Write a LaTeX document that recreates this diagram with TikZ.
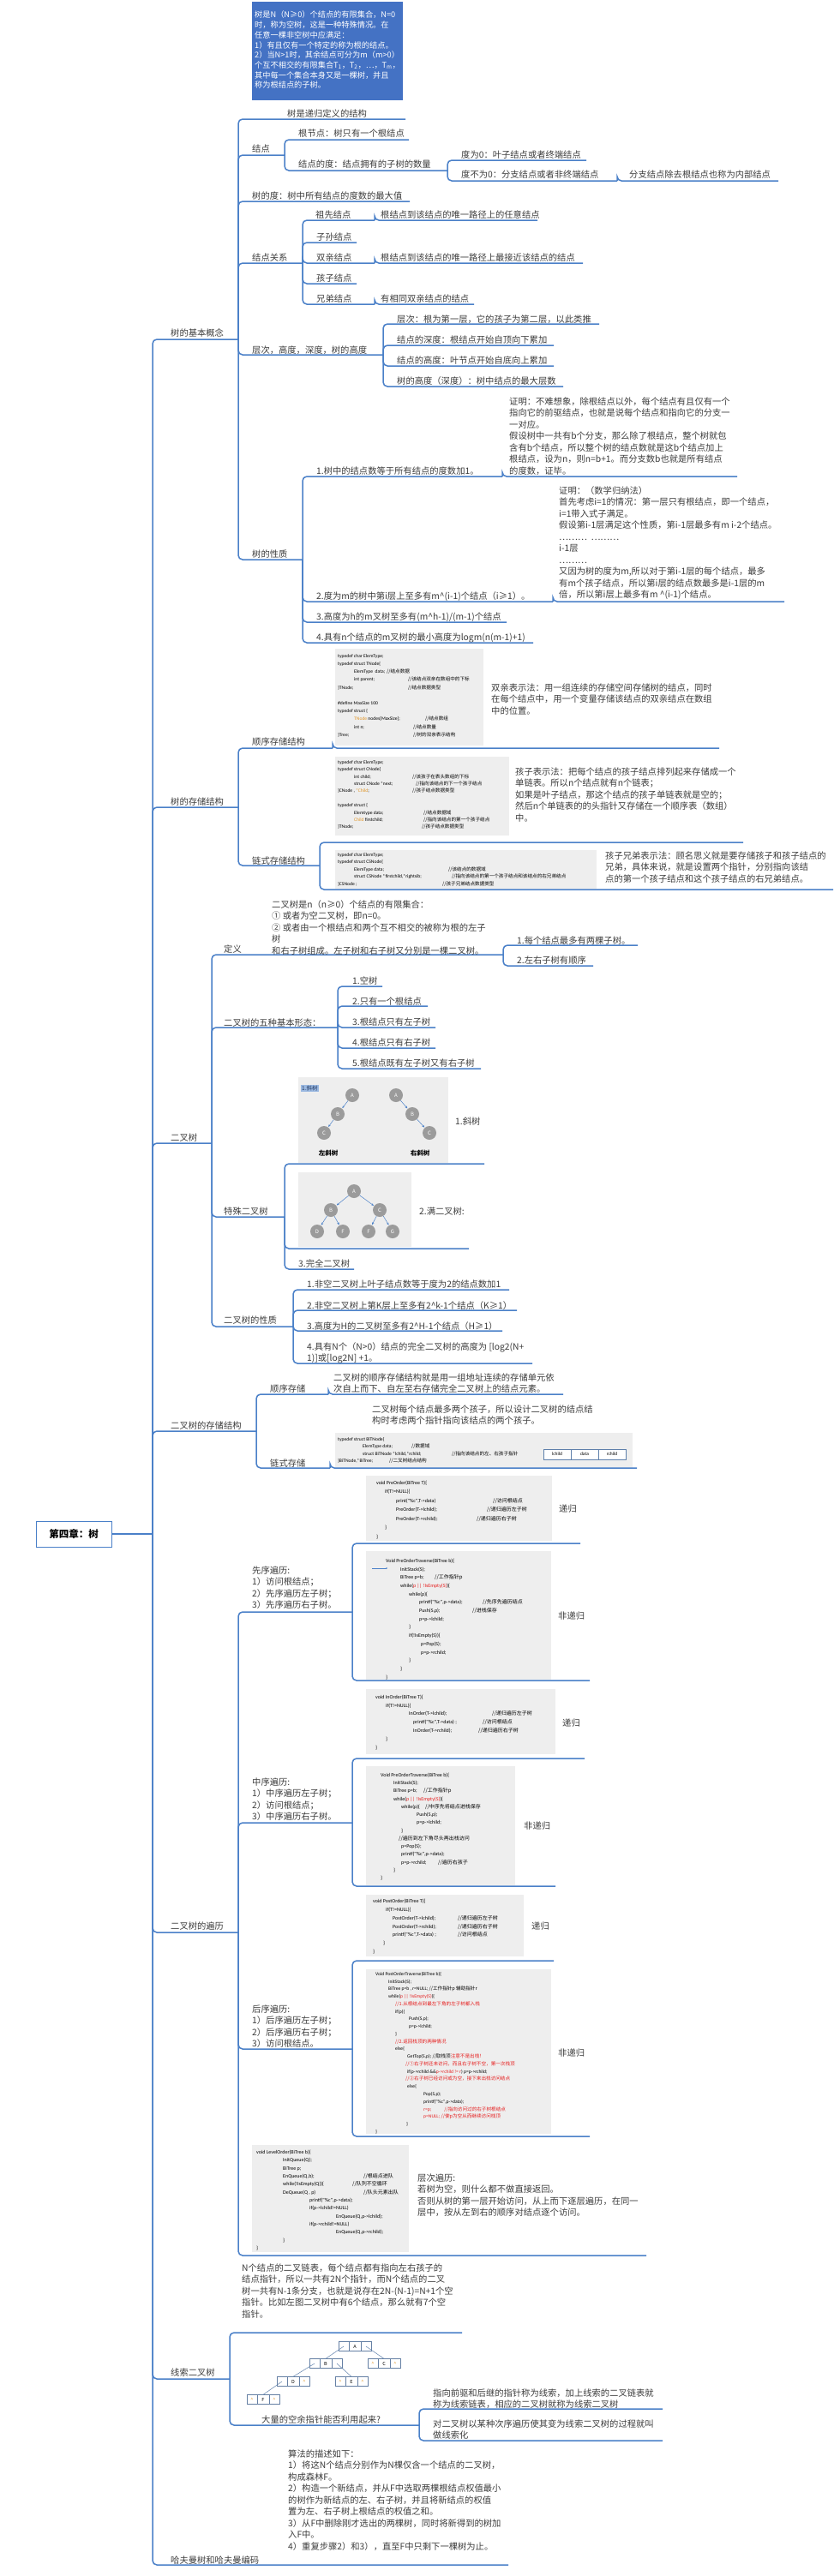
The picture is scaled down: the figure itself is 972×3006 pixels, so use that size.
\documentclass[tikz,border=0pt]{standalone}
\usepackage{fontspec}
\setmainfont{Noto Sans CJK SC}
\newfontfamily\cjk{Noto Sans CJK SC}
\newfontfamily\codef{Carlito}
\usetikzlibrary{fit,arrows.meta}
\definecolor{lc}{RGB}{74,128,200}
\definecolor{tc}{RGB}{60,60,60}
\definecolor{boxb}{RGB}{68,114,196}
\definecolor{cbg}{RGB}{238,238,238}
\definecolor{ng}{RGB}{155,155,155}
\definecolor{cred}{RGB}{230,30,30}
\definecolor{corg}{RGB}{225,150,40}
\newcommand\mmstrut{\rule{0pt}{9.3pt}}
\newcommand\mmln[4]{\hspace*{#1pt}\rlap{#2}\hspace*{\dimexpr#3pt-#1pt\relax}{\cjk #4}}
\newcommand\mmli[2]{\hspace*{#1pt}#2}
\newcommand\mmtopic[7]{%
  \node[tx] (#1) at (#3,#4-5.4) {\mmstrut#7};
  \coordinate (#1-e) at (#6,#5);
  \draw[conn] (#2) |- (#1-e);}
\newcommand\mmcode[9]{%
  \node[codebg, fit={(#2,#3) (#4,#5)}] (#1) {};
  \node[code, font=\codef\fontsize#8\selectfont] (#1t) at (#6,#7-3.9) {\rule{0pt}{6pt}#9};}
\newcommand\mmtb[6]{%
  \node[tcell, minimum width=12pt] (#1l) at (#2-13,#3) {#4};
  \node[tcell, minimum width=14pt] (#1m) at (#2,#3) {#5};
  \node[tcell, minimum width=12pt] (#1r) at (#2+13,#3) {#6};}
\newcommand\nil{\textcolor{corg}{\textasciicircum}}
\tikzset{
 conn/.style={draw=lc, line width=1.5pt, rounded corners=5pt},
 tx/.style={font=\fontsize{10.3}{13.5}\selectfont, text=tc, inner sep=0pt, anchor=north west, align=left},
 codebg/.style={fill=cbg, draw=none, inner sep=0pt},
 code/.style={text=black, inner sep=0pt, anchor=north west, align=left},
 tn/.style={circle, fill=ng, minimum size=16pt, inner sep=0pt, text=white, font=\fontsize{6}{6}\selectfont},
 tarr/.style={-{Stealth[length=3pt,width=2.5pt]}, draw=lc, line width=0.5pt, shorten >=0.5pt},
 tcell/.style={draw=lc!50!gray, fill=white, minimum height=11pt, inner sep=0pt, font=\fontsize{5.5}{5.5}\selectfont, line width=0.4pt},
 tline/.style={draw=lc!60!gray, line width=0.5pt},
 cell2/.style={draw=lc!60!gray, fill=white, minimum width=32pt, minimum height=12pt, inner sep=0pt, font=\codef\fontsize{5.5}{5.5}\selectfont, line width=0.4pt},
}
\begin{document}
\begin{tikzpicture}[x=1pt,y=-1pt]
\useasboundingbox (0,0) rectangle (972,3006);
\fill[white] (0,0) rectangle (972,3006);

% ---------- note box ----------
\node[fill=boxb, fit={(294,2) (470,117)}, inner sep=0pt] (note) {};
\node[tx, text=white, font=\fontsize{9.2}{11.7}\selectfont] (notet) at (297,17-4.6) {\rule{0pt}{8.3pt}树是N（N≥0）个结点的有限集合，N=0\\时，称为空树，这是一种特殊情况。在\\任意一棵非空树中应满足：\\1）有且仅有一个特定的称为根的结点。\\2）当N>1时，其余结点可分为m（m>0）\\个互不相交的有限集合T\textsubscript{1}，T\textsubscript{2}，…，T\textsubscript{m}，\\其中每一个集合本身又是一棵树，并且\\称为根结点的子树。};

% ---------- root ----------
\node[draw=lc, line width=1pt, fill=white, minimum width=88pt, minimum height=30pt, inner sep=0pt, font=\fontsize{11.5}{12}\selectfont\bfseries, text=black] (root) at (86,1790) {第四章：树};
\coordinate (root-e) at (178,1790);
\draw[conn] (root.east) -- (root-e);

% ---------- level 1 ----------
\mmtopic{gn}{root-e}{199}{388}{396}{278}{树的基本概念}
\mmtopic{cc}{root-e}{199}{935}{942}{278}{树的存储结构}
\mmtopic{bt}{root-e}{199}{1327}{1334}{247}{二叉树}
\mmtopic{bs}{root-e}{199}{1663}{1670}{299}{二叉树的存储结构}
\mmtopic{tr}{root-e}{199}{2247}{2255}{278}{二叉树的遍历}
\mmtopic{xs}{root-e}{199}{2768}{2776}{268}{线索二叉树}
\mmtopic{hf}{root-e}{199}{2987}{2993}{593}{哈夫曼树和哈夫曼编码}
\node[tx] (hft) at (336,2863-5.4) {\mmstrut 算法的描述如下：\\1）将这N个结点分别作为N棵仅含一个结点的二叉树，\\构成森林F。\\2）构造一个新结点，并从F中选取两棵根结点权值最小\\的树作为新结点的左、右子树，并且将新结点的权值\\置为左、右子树上根结点的权值之和。\\3）从F中删除刚才选出的两棵树，同时将新得到的树加\\入F中。\\4）重复步骤2）和3），直至F中只剩下一棵树为止。};

% ---------- 树的基本概念 ----------
\mmtopic{g1}{gn-e}{335}{132}{139}{473}{树是递归定义的结构}
\mmtopic{g2}{gn-e}{294}{173}{181}{332}{结点}
\mmtopic{g21}{g2-e}{348}{155}{163}{477}{根节点：树只有一个根结点}
\mmtopic{g22}{g2-e}{348}{191}{199}{522}{结点的度：结点拥有的子树的数量}
\mmtopic{g221}{g22-e}{538}{180}{187}{684}{度为0：叶子结点或者终端结点}
\mmtopic{g222}{g22-e}{538}{203}{211}{720}{度不为0：分支结点或者非终端结点}
\mmtopic{g2221}{g222-e}{734}{203}{211}{908}{分支结点除去根结点也称为内部结点}
\mmtopic{g3}{gn-e}{294}{228}{235}{478}{树的度：树中所有结点的度数的最大值}
\mmtopic{g4}{gn-e}{294}{300}{307}{353}{结点关系}
\mmtopic{g41}{g4-e}{368}{250}{257}{437}{祖先结点}
\mmtopic{g411}{g41-e}{444}{250}{257}{627}{根结点到该结点的唯一路径上的任意结点}
\mmtopic{g42}{g4-e}{369}{276}{283}{416}{子孙结点}
\mmtopic{g43}{g4-e}{369}{300}{307}{437}{双亲结点}
\mmtopic{g431}{g43-e}{444}{300}{307}{680}{根结点到该结点的唯一路径上最接近该结点的结点}
\mmtopic{g44}{g4-e}{369}{324}{331}{416}{孩子结点}
\mmtopic{g45}{g4-e}{369}{348}{355}{437}{兄弟结点}
\mmtopic{g451}{g45-e}{444}{348}{355}{553}{有相同双亲结点的结点}
\mmtopic{g5}{gn-e}{294}{408}{414}{447}{层次，高度，深度，树的高度}
\mmtopic{g51}{g5-e}{463}{372}{378}{699}{层次：根为第一层，它的孩子为第二层，以此类推}
\mmtopic{g52}{g5-e}{463}{396}{403}{646}{结点的深度：根结点开始自顶向下累加}
\mmtopic{g53}{g5-e}{463}{420}{427}{646}{结点的高度：叶节点开始自底向上累加}
\mmtopic{g54}{g5-e}{463}{444}{451}{657}{树的高度（深度）：树中结点的最大层数}
\mmtopic{g6}{gn-e}{294}{646}{653}{353}{树的性质}
\mmtopic{g61}{g6-e}{369}{549}{556}{586}{1.树中的结点数等于所有结点的度数加1。}
\mmtopic{g61p}{g61-e}{594}{468}{556}{860}{证明：不难想象，除根结点以外，每个结点有且仅有一个\\指向它的前驱结点，也就是说每个结点和指向它的分支一\\一对应。\\假设树中一共有b个分支，那么除了根结点，整个树就包\\含有b个结点，所以整个树的结点数就是这b个结点加上\\根结点，设为n，则n=b+1。而分支数b也就是所有结点\\的度数，证毕。}
\mmtopic{g62}{g6-e}{369}{695}{702}{645}{2.度为m的树中第i层上至多有m\textasciicircum(i-1)个结点（i≥1）。}
\mmtopic{g62p}{g62-e}{652}{572}{702}{915}{证明：（数学归纳法）\\首先考虑i=1的情况：第一层只有根结点，即一个结点，\\i=1带入式子满足。\\假设第i-1层满足这个性质，第i-1层最多有m i-2个结点。\\………\ \ ………\\i-1层\\………\\又因为树的度为m,所以对于第i-1层的每个结点，最多\\有m个孩子结点，所以第i层的结点数最多是i-1层的m\\倍，所以第i层上最多有m \textasciicircum(i-1)个结点。}
\mmtopic{g63}{g6-e}{369}{719}{726}{591}{3.高度为h的m叉树至多有(m\textasciicircum h-1)/(m-1)个结点}
\mmtopic{g64}{g6-e}{369}{743}{750}{622}{4.具有n个结点的m叉树的最小高度为logm(n(m-1)+1)}

% ---------- 树的存储结构 ----------
\mmtopic{c1}{cc-e}{294}{865}{873}{388}{顺序存储结构}
\mmcode{c11code}{391}{757}{564}{870}{394}{765}{{5.6}{9.2}}{%
typedef char ElemType;\\
typedef struct TNode\{\\
\mmln{19}{ElemType\ \ data;}{57}{//结点数据}\\
\mmln{19}{int parent;}{82}{//该结点双亲在数组中的下标}\\
\mmln{0}{\}TNode;}{82}{//结点数据类型}\\
\mbox{}\\
\#define MaxSize 100\\
typedef struct \{\\
\mmln{19}{\textcolor{corg}{TNode} nodes[MaxSize];}{102}{//结点数组}\\
\mmln{19}{int n;}{88}{//结点数量}\\
\mmln{0}{\}Tree;}{88}{//树的双亲表示结构}}
\mmtopic{c11}{c1-e}{573}{802}{873}{839}{双亲表示法：用一组连续的存储空间存储树的结点，同时\\在每个结点中，用一个变量存储该结点的双亲结点在数组\\中的位置。}
\mmtopic{c2}{cc-e}{294}{1004}{1010}{373}{链式存储结构}
\mmcode{c21code}{391}{883}{594}{975}{394}{889}{{5.6}{8.4}}{%
typedef char ElemType;\\
typedef struct CNode\{\\
\mmln{19}{int child;}{87}{//该孩子在表头数组的下标}\\
\mmln{19}{struct CNode *next;}{91}{//指向该结点的下一个孩子结点}\\
\mmln{0}{\}CNode , \textcolor{corg}{*Child};}{87}{//孩子结点数据类型}\\
\mbox{}\\
typedef struct \{\\
\mmln{19}{Elemtype data;}{100}{//结点数据域}\\
\mmln{19}{\textcolor{corg}{Child} firstchild;}{100}{//指向该结点的第一个孩子结点}\\
\mmln{0}{\}TNode;}{98}{//孩子结点数据类型}}
\mmtopic{c21}{c2-e}{601}{900}{983}{867}{孩子表示法：把每个结点的孩子结点排列起来存储成一个\\单链表。所以n个结点就有n个链表；\\如果是叶子结点，那这个结点的孩子单链表就是空的；\\然后n个单链表的的头指针又存储在一个顺序表（数组）\\中。}
\mmcode{c22code}{391}{992}{696}{1037}{394}{997}{{5.6}{8.5}}{%
typedef char ElemType;\\
typedef struct CSNode\{\\
\mmln{19}{ElemType data;}{129}{//该结点的数据域}\\
\mmln{19}{struct CSNode *firstchild,*rightsib;}{133}{//指向该结点的第一个孩子结点和该结点的右兄弟结点}\\
\mmln{0}{\}CSNode ;}{122}{//孩子兄弟结点数据类型}}
\mmtopic{c22}{c2-e}{706}{998}{1038}{972}{孩子兄弟表示法：顾名思义就是要存储孩子和孩子结点的\\兄弟，具体来说，就是设置两个指针，分别指向该结\\点的第一个孩子结点和这个孩子结点的右兄弟结点。}

% ---------- 二叉树 ----------
\mmtopic{b1}{bt-e}{261}{1107}{1114}{587}{定义}
\node[tx] (b1d) at (317,1055-5.4) {\mmstrut 二叉树是n（n≥0）个结点的有限集合：\\① 或者为空二叉树，即n=0。\\② 或者由一个根结点和两个互不相交的被称为根的左子\\树\\和右子树组成。左子树和右子树又分别是一棵二叉树。};
\mmtopic{b11}{b1-e}{603}{1097}{1103}{744}{1.每个结点最多有两棵子树。}
\mmtopic{b12}{b1-e}{603}{1120}{1127}{692}{2.左右子树有顺序}
\mmtopic{b2}{bt-e}{261}{1193}{1199}{394}{二叉树的五种基本形态：}
\mmtopic{b21}{b2-e}{411}{1144}{1151}{446}{1.空树}
\mmtopic{b22}{b2-e}{411}{1168}{1174}{499}{2.只有一个根结点}
\mmtopic{b23}{b2-e}{411}{1192}{1199}{508}{3.根结点只有左子树}
\mmtopic{b24}{b2-e}{411}{1216}{1223}{508}{4.根结点只有右子树}
\mmtopic{b25}{b2-e}{411}{1240}{1247}{561}{5.根结点既有左子树又有右子树}
\mmtopic{b3}{bt-e}{261}{1413}{1420}{332}{特殊二叉树}
% image 1
\node[codebg, fit={(348,1257) (523,1357)}] (img1) {};
\node[fill=lc!55, text=boxb!50!black, font=\fontsize{6.5}{7}\selectfont, inner sep=1pt, anchor=west] (hl) at (351,1270) {1.斜树};
\node[tn] (sla) at (411,1278) {A};
\node[tn] (slb) at (394,1300) {B};
\node[tn] (slc) at (378,1322) {C};
\node[tn] (sra) at (462,1278) {A};
\node[tn] (srb) at (481,1300) {B};
\node[tn] (src) at (501,1322) {C};
\draw[tarr] (sla) -- (slb); \draw[tarr] (slb) -- (slc);
\draw[tarr] (sra) -- (srb); \draw[tarr] (srb) -- (src);
\node[font=\fontsize{7.5}{8}\selectfont\bfseries, text=black, inner sep=0pt] (lsl) at (383,1346) {左斜树};
\node[font=\fontsize{7.5}{8}\selectfont\bfseries, text=black, inner sep=0pt] (rsl) at (490,1346) {右斜树};
\mmtopic{b31}{b3-e}{531}{1308}{1358}{565}{1.斜树}
% image 2
\node[codebg, fit={(348,1368) (480,1455)}] (img2) {};
\node[tn] (fa) at (413,1390) {A};
\node[tn] (fb) at (386,1412) {B};
\node[tn] (fc) at (443,1412) {C};
\node[tn] (fd) at (370,1437) {D};
\node[tn] (fe) at (400,1437) {F};
\node[tn] (ff) at (430,1437) {F};
\node[tn] (fg) at (458,1437) {G};
\draw[tarr] (fa) -- (fb); \draw[tarr] (fa) -- (fc);
\draw[tarr] (fb) -- (fd); \draw[tarr] (fb) -- (fe);
\draw[tarr] (fc) -- (ff); \draw[tarr] (fc) -- (fg);
\mmtopic{b32}{b3-e}{489}{1413}{1457}{547}{2.满二叉树:}
\mmtopic{b33}{b3-e}{348}{1474}{1481}{413}{3.完全二叉树}
\mmtopic{b4}{bt-e}{261}{1540}{1548}{342}{二叉树的性质}
\mmtopic{b41}{b4-e}{358}{1498}{1505}{594}{1.非空二叉树上叶子结点数等于度为2的结点数加1}
\mmtopic{b42}{b4-e}{358}{1523}{1529}{603}{2.非空二叉树上第K层上至多有2\textasciicircum k-1个结点（K≥1）}
\mmtopic{b43}{b4-e}{358}{1547}{1553}{586}{3.高度为H的二叉树至多有2\textasciicircum H-1个结点（H≥1）}
\mmtopic{b44}{b4-e}{358}{1571}{1591}{621}{4.具有N个（N>0）结点的完全二叉树的高度为 [log2(N+\\1)]或[log2N] +1。}

% ---------- 二叉树的存储结构 ----------
\mmtopic{s1}{bs-e}{315}{1620}{1627}{383}{顺序存储}
\mmtopic{s11}{s1-e}{389}{1607}{1627}{657}{二叉树的顺序存储结构就是用一组地址连续的存储单元依\\次自上而下、自左至右存储完全二叉树上的结点元素。}
\mmtopic{s2}{bs-e}{315}{1707}{1713}{385}{链式存储}
\mmcode{s2code}{391}{1672}{738}{1713}{394}{1679}{{5.6}{8.4}}{%
typedef struct BiTNode\{\\
\mmln{29}{ElemType data;}{86}{//数据域}\\
\mmln{29}{struct BiTNode *lchild,*rchild;}{133}{//指向该结点的左、右孩子指针}\\
\mmln{0}{\}BiTNode,*BiTree;}{60}{//二叉树结点结构}}
\node[cell2] (tcl) at (650,1697) {lchild};
\node[cell2] (tcd) at (682,1697) {data};
\node[cell2] (tcr) at (714,1697) {rchild};
\mmtopic{s21}{s2-e}{434}{1644}{1713}{743}{二叉树每个结点最多两个孩子，所以设计二叉树的结点结\\构时考虑两个指针指向该结点的两个孩子。}

% ---------- 二叉树的遍历 ----------
\mmtopic{t1}{tr-e}{294}{1832}{1881}{411}{先序遍历:\\1）访问根结点；\\2）先序遍历左子树；\\3）先序遍历右子树。}
\mmcode{t11code}{427}{1722}{644}{1798}{439}{1730}{{6}{10.5}}{%
void PreOrder(BiTree T)\{\\
\mmli{10}{if(T!=NULL)\{}\\
\mmln{23}{print("\%c",T->data)}{136}{//访问根结点}\\
\mmln{23}{PreOrder(T->lchild);}{129}{//递归遍历左子树}\\
\mmln{23}{PreOrder(T->rchild);}{117}{//递归遍历右子树}\\
\mmli{10}{\}}\\
\}}
\mmtopic{t11}{t1-e}{652}{1760}{1801}{677}{递归}
\mmcode{t12code}{427}{1810}{643}{1960}{450}{1821}{{6}{9.7}}{%
Void PreOrderTraverse(BiTree b)\{\\
\mmli{17}{InitStack(S);}\\
\mmln{17}{BiTree p=b;}{57}{//工作指针p}\\
\mmli{17}{while(\textcolor{cred}{p || !IsEmpty(S)})\{}\\
\mmli{27}{while(p)\{}\\
\mmln{39}{printf("\%c",p->data);}{113}{//先序先遍历结点}\\
\mmln{39}{Push(S,p);}{101}{//进栈保存}\\
\mmli{39}{p=p->lchild;}\\
\mmli{27}{\}}\\
\mmli{27}{if(!IsEmpty(S))\{}\\
\mmli{41}{p=Pop(S);}\\
\mmli{41}{p=p->rchild;}\\
\mmli{27}{\}}\\
\mmli{17}{\}}\\
\}}
\draw[lc, line width=0.6pt] (434,1830) -- (451,1830);
\fill[lc] (451,1830) circle (0.9);
\mmtopic{t12}{t1-e}{651}{1885}{1961}{688}{非递归}
\mmtopic{t2}{tr-e}{294}{2079}{2127}{411}{中序遍历:\\1）中序遍历左子树；\\2）访问根结点；\\3）中序遍历右子树。}
\mmcode{t21code}{427}{1971}{648}{2047}{438}{1980}{{6}{9.8}}{%
void InOrder(BiTree T)\{\\
\mmli{12}{if(T!=NULL)\{}\\
\mmln{39}{InOrder(T->lchild);}{136}{//递归遍历左子树}\\
\mmln{44}{printf("\%c",T->data) ;}{125}{//访问根结点}\\
\mmln{44}{InOrder(T->rchild);}{120}{//递归遍历右子树}\\
\mmli{12}{\}}\\
\}}
\mmtopic{t21}{t2-e}{656}{2010}{2052}{682}{递归}
\mmcode{t22code}{427}{2061}{601}{2200}{444}{2071}{{6}{9.25}}{%
Void PreOrderTraverse(BiTree b)\{\\
\mmli{15}{InitStack(S);}\\
\mmln{15}{BiTree p=b;}{50}{//工作指针p}\\
\mmli{15}{while(\textcolor{cred}{p || !IsEmpty(S)})\{}\\
\mmln{24}{while(p)\{}{52}{//中序先将结点进栈保存}\\
\mmli{42}{Push(S,p);}\\
\mmli{42}{p=p->lchild;}\\
\mmli{24}{\}}\\
\mmli{21}{{\cjk //遍历到左下角尽头再出栈访问}}\\
\mmli{24}{p=Pop(S);}\\
\mmli{24}{printf("\%c",p->data);}\\
\mmln{24}{p=p->rchild;}{67}{//遍历右孩子}\\
\mmli{15}{\}}\\
\}}
\mmtopic{t22}{t2-e}{611}{2130}{2201}{648}{非递归}
\mmtopic{t3}{tr-e}{294}{2344}{2391}{411}{后序遍历:\\1）后序遍历左子树；\\2）后序遍历右子树；\\3）访问根结点。}
\mmcode{t31code}{427}{2211}{611}{2283}{435}{2218}{{6}{9.9}}{%
void PostOrder(BiTree T)\{\\
\mmli{15}{if(T!=NULL)\{}\\
\mmln{23}{PostOrder(T->lchild);}{99}{//递归遍历左子树}\\
\mmln{23}{PostOrder(T->rchild);}{99}{//递归遍历右子树}\\
\mmln{23}{printf("\%c",T->data) ;}{99}{//访问根结点}\\
\mmli{12}{\}}\\
\}}
\mmtopic{t31}{t3-e}{620}{2247}{2288}{646}{递归}
\mmcode{t32code}{427}{2298}{643}{2490}{438}{2303}{{5.6}{8.76}}{%
Void PostOrderTraverse(BiTree b)\{\\
\mmli{15}{InitStack(S);}\\
\mmli{15}{BiTree p=b , r=NULL; {\cjk //工作指针p 辅助指针r}}\\
\mmli{15}{while(\textcolor{cred}{p || !IsEmpty(S)})\{}\\
\mmli{23}{\textcolor{cred}{\cjk //1.从根结点到最左下角的左子树都入栈}}\\
\mmli{23}{if(p)\{}\\
\mmli{39}{Push(S,p);}\\
\mmli{39}{p=p->lchild;}\\
\mmli{23}{\}}\\
\mmli{23}{\textcolor{cred}{\cjk //2.返回栈顶的两种情况}}\\
\mmli{23}{else\{}\\
\mmli{37}{GetTop(S,p); {\cjk //取栈顶\textcolor{cred}{注意不是出栈！}}}\\
\mmli{35}{\textcolor{cred}{\cjk //①右子树还未访问，而且右子树不空，第一次栈顶}}\\
\mmli{37}{if(p->rchild \&\&\textcolor{cred}{p->rchild != r}) p=p->rchild;}\\
\mmli{35}{\textcolor{cred}{\cjk //②右子树已经访问或为空，接下来出栈访问结点}}\\
\mmli{37}{else\{}\\
\mmli{56}{Pop(S,p);}\\
\mmli{56}{printf("\%c",p->data);}\\
\mmli{56}{\textcolor{cred}{r=p;\hspace{15pt}{\cjk //指向访问过的右子树根结点}}}\\
\mmli{56}{\textcolor{cred}{p=NULL; {\cjk //使p为空从而继续访问栈顶}}}\\
\mmli{36}{\}}\\
\}}
\mmtopic{t32}{t3-e}{651}{2395}{2493}{688}{非递归}
\mmcode{t4code}{294}{2503}{477}{2628}{299}{2511}{{6}{9.35}}{%
void LevelOrder(BiTree b)\{\\
\mmli{31}{InitQueue(Q);}\\
\mmli{31}{BiTree p;}\\
\mmln{31}{EnQueue(Q,b);}{125}{//根结点进队}\\
\mmln{31}{while(!IsEmpty(Q))\{}{112}{//队列不空循环}\\
\mmln{31}{DeQueue(Q , p)}{125}{//队头元素出队}\\
\mmli{62}{printf("\%c",p->data);}\\
\mmli{62}{if(p->lchild!=NULL)}\\
\mmli{93}{EnQueue(Q,p->lchild);}\\
\mmli{62}{if(p->rchild!=NULL)}\\
\mmli{93}{EnQueue(Q,p->rchild);}\\
\mmli{31}{\}}\\
\}}
\mmtopic{t4}{tr-e}{487}{2541}{2632}{754}{层次遍历:\\若树为空，则什么都不做直接返回。\\否则从树的第一层开始访问，从上而下逐层遍历，在同一\\层中，按从左到右的顺序对结点逐个访问。}

% ---------- 线索二叉树 ----------
\mmtopic{x1}{xs-e}{282}{2646}{2722}{539}{N个结点的二叉链表，每个结点都有指向左右孩子的\\结点指针，所以一共有2N个指针，而N个结点的二叉\\树一共有N-1条分支，也就是说存在2N-(N-1)=N+1个空\\指针。比如左图二叉树中有6个结点，那么就有7个空\\指针。}
\mmtb{ta}{414}{2738}{}{A}{}
\mmtb{tb}{380}{2758}{}{B}{}
\mmtb{tcc}{448}{2758}{\nil}{C}{\nil}
\mmtb{td}{342}{2779}{}{D}{\nil}
\mmtb{te}{410}{2779}{\nil}{E}{\nil}
\mmtb{tf}{307}{2800}{\nil}{F}{\nil}
\draw[tline] (tal.center) -- (tbm.north);
\draw[tline] (tar.center) -- (tccm.north);
\draw[tline] (tbl.center) -- (tdm.north);
\draw[tline] (tbr.center) -- (tem.north);
\draw[tline] (tdl.center) -- (tfm.north);
\mmtopic{x2}{xs-e}{305}{2823}{2830}{489}{大量的空余指针能否利用起来?}
\mmtopic{x21}{x2-e}{505}{2792}{2811}{773}{指向前驱和后继的指针称为线索，加上线索的二叉链表就\\称为线索链表，相应的二叉树就称为线索二叉树}
\mmtopic{x22}{x2-e}{505}{2828}{2848}{773}{对二叉树以某种次序遍历使其变为线索二叉树的过程就叫\\做线索化}
\end{tikzpicture}
\end{document}
